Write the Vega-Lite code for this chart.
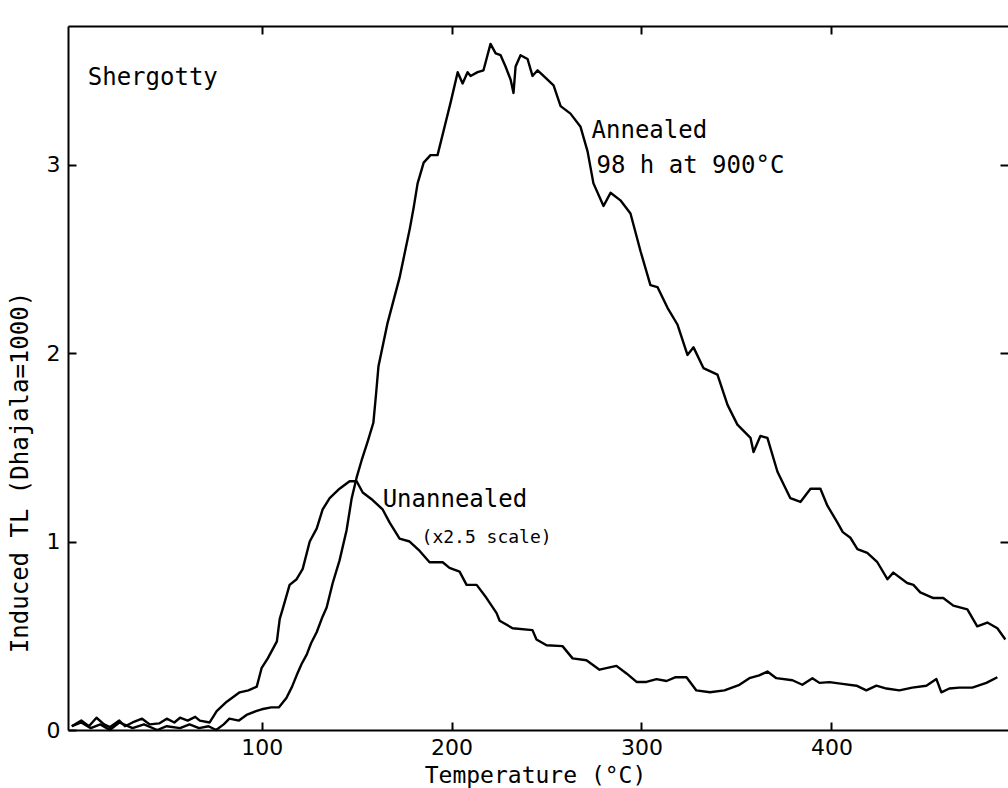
{
  "$schema": "https://vega.github.io/schema/vega-lite/v6.json",
  "width": 940,
  "height": 704,
  "autosize": {"type": "none"},
  "padding": {"left": 68, "top": 26, "right": 0, "bottom": 58},
  "background": "white",
  "config": {"view": {"stroke": null}, "font": "DejaVu Sans Mono"},
  "datasets": {
    "annealed": [
      {"temp":0,"tl":0.02},{"temp":5,"tl":0.04},{"temp":10,"tl":0.01},{"temp":15,"tl":0.03},{"temp":20,"tl":0.0},
      {"temp":25,"tl":0.04},{"temp":32,"tl":0.01},{"temp":38,"tl":0.03},{"temp":45,"tl":0.0},{"temp":50,"tl":0.02},
      {"temp":57,"tl":0.01},{"temp":62,"tl":0.03},{"temp":67,"tl":0.01},{"temp":72,"tl":0.02},{"temp":76,"tl":0.0},
      {"temp":80,"tl":0.03},{"temp":83,"tl":0.06},{"temp":88,"tl":0.05},{"temp":92,"tl":0.08},{"temp":97,"tl":0.1},
      {"temp":100,"tl":0.11},{"temp":105,"tl":0.12},{"temp":109,"tl":0.12},{"temp":113,"tl":0.17},{"temp":116,"tl":0.23},
      {"temp":118.4,"tl":0.29},{"temp":121,"tl":0.35},{"temp":123.7,"tl":0.4},{"temp":126,"tl":0.46},{"temp":129,"tl":0.52},
      {"temp":132,"tl":0.6},{"temp":134.2,"tl":0.65},{"temp":137.4,"tl":0.78},{"temp":141,"tl":0.9},{"temp":144.7,"tl":1.06},
      {"temp":147.4,"tl":1.23},{"temp":150,"tl":1.34},{"temp":152.6,"tl":1.43},{"temp":155.8,"tl":1.53},{"temp":158.8,"tl":1.63},
      {"temp":160.2,"tl":1.78},{"temp":161.5,"tl":1.93},{"temp":166.3,"tl":2.16},{"temp":172.6,"tl":2.4},{"temp":178,"tl":2.66},{"temp":180,"tl":2.77},
      {"temp":182.1,"tl":2.9},{"temp":185.3,"tl":3.01},{"temp":188.9,"tl":3.05},{"temp":192.6,"tl":3.05},{"temp":196.8,"tl":3.22},
      {"temp":199.5,"tl":3.33},{"temp":203.2,"tl":3.49},{"temp":205.8,"tl":3.43},{"temp":208.4,"tl":3.49},{"temp":210,"tl":3.47},
      {"temp":213.7,"tl":3.49},{"temp":216.8,"tl":3.5},{"temp":218.9,"tl":3.58},{"temp":220.5,"tl":3.64},{"temp":223.2,"tl":3.59},
      {"temp":225.8,"tl":3.58},{"temp":228.4,"tl":3.52},{"temp":231.1,"tl":3.45},{"temp":232.6,"tl":3.38},{"temp":233.7,"tl":3.52},
      {"temp":236.3,"tl":3.58},{"temp":240,"tl":3.56},{"temp":242.6,"tl":3.47},{"temp":245.3,"tl":3.5},{"temp":248.4,"tl":3.47},
      {"temp":253.7,"tl":3.42},{"temp":257.4,"tl":3.31},{"temp":262.6,"tl":3.27},{"temp":267.9,"tl":3.2},{"temp":271.6,"tl":3.07},
      {"temp":274.7,"tl":2.9},{"temp":280,"tl":2.78},{"temp":283.7,"tl":2.85},{"temp":288.9,"tl":2.81},{"temp":294.2,"tl":2.74},
      {"temp":299.5,"tl":2.54},{"temp":304.7,"tl":2.36},{"temp":308.4,"tl":2.35},{"temp":313.7,"tl":2.24},{"temp":319,"tl":2.15},
      {"temp":324.2,"tl":1.99},{"temp":327.4,"tl":2.03},{"temp":332.6,"tl":1.92},{"temp":340,"tl":1.885},{"temp":345.3,"tl":1.725},
      {"temp":350.5,"tl":1.62},{"temp":357.4,"tl":1.55},{"temp":359,"tl":1.475},{"temp":362.6,"tl":1.56},{"temp":366.3,"tl":1.55},
      {"temp":371.6,"tl":1.37},{"temp":378.4,"tl":1.23},{"temp":383.7,"tl":1.21},{"temp":389,"tl":1.28},{"temp":394.2,"tl":1.28},
      {"temp":397.9,"tl":1.19},{"temp":403.2,"tl":1.1},{"temp":406,"tl":1.05},{"temp":410,"tl":1.02},{"temp":413.7,"tl":0.96},
      {"temp":418.9,"tl":0.94},{"temp":424.2,"tl":0.89},{"temp":429.5,"tl":0.8},{"temp":432.6,"tl":0.835},{"temp":439.9,"tl":0.78},
      {"temp":443.2,"tl":0.77},{"temp":446.8,"tl":0.73},{"temp":453.7,"tl":0.7},{"temp":458.9,"tl":0.7},{"temp":464.2,"tl":0.66},
      {"temp":471.6,"tl":0.64},{"temp":476.8,"tl":0.55},{"temp":482.1,"tl":0.57},{"temp":487.4,"tl":0.54},{"temp":491.6,"tl":0.48}
    ],
    "unannealed": [
      {"temp":0,"tl":0.02},{"temp":5,"tl":0.05},{"temp":9,"tl":0.02},{"temp":13,"tl":0.065},{"temp":17,"tl":0.03},
      {"temp":20,"tl":0.015},{"temp":25,"tl":0.05},{"temp":28,"tl":0.02},{"temp":32,"tl":0.04},{"temp":37,"tl":0.06},
      {"temp":41,"tl":0.03},{"temp":46,"tl":0.035},{"temp":50,"tl":0.06},{"temp":54,"tl":0.04},{"temp":57,"tl":0.065},
      {"temp":61,"tl":0.05},{"temp":65,"tl":0.07},{"temp":67.4,"tl":0.05},{"temp":72.6,"tl":0.04},{"temp":76.3,"tl":0.1},
      {"temp":81.6,"tl":0.15},{"temp":88.4,"tl":0.2},{"temp":93,"tl":0.21},{"temp":97.4,"tl":0.23},{"temp":100,"tl":0.33},
      {"temp":103.2,"tl":0.38},{"temp":108,"tl":0.47},{"temp":109.5,"tl":0.59},{"temp":111,"tl":0.64},{"temp":114.7,"tl":0.77},
      {"temp":118.4,"tl":0.8},{"temp":121.6,"tl":0.855},{"temp":125.3,"tl":1.0},{"temp":129,"tl":1.07},{"temp":132.1,"tl":1.17},
      {"temp":135.8,"tl":1.23},{"temp":141,"tl":1.28},{"temp":146.3,"tl":1.32},{"temp":150,"tl":1.32},{"temp":153.2,"tl":1.26},
      {"temp":158.4,"tl":1.22},{"temp":163.7,"tl":1.17},{"temp":167.4,"tl":1.1},{"temp":172.6,"tl":1.015},{"temp":177.9,"tl":1.0},
      {"temp":183.2,"tl":0.95},{"temp":188.4,"tl":0.89},{"temp":195.3,"tl":0.89},{"temp":198.9,"tl":0.86},{"temp":204.2,"tl":0.84},
      {"temp":207.9,"tl":0.77},{"temp":213.2,"tl":0.77},{"temp":218.4,"tl":0.7},{"temp":223.7,"tl":0.62},{"temp":225.3,"tl":0.58},
      {"temp":232.1,"tl":0.54},{"temp":242.6,"tl":0.53},{"temp":244.7,"tl":0.48},{"temp":250,"tl":0.45},{"temp":258.4,"tl":0.445},
      {"temp":263.7,"tl":0.38},{"temp":271,"tl":0.37},{"temp":277.9,"tl":0.32},{"temp":286.8,"tl":0.34},{"temp":292.1,"tl":0.3},
      {"temp":297.4,"tl":0.255},{"temp":302.6,"tl":0.255},{"temp":307.9,"tl":0.27},{"temp":313.2,"tl":0.26},{"temp":318,"tl":0.28},
      {"temp":323.7,"tl":0.28},{"temp":328.9,"tl":0.21},{"temp":336,"tl":0.2},{"temp":343.7,"tl":0.21},{"temp":351.6,"tl":0.24},
      {"temp":356.8,"tl":0.275},{"temp":362,"tl":0.29},{"temp":366.3,"tl":0.31},{"temp":371,"tl":0.275},{"temp":379.5,"tl":0.264},
      {"temp":384.7,"tl":0.24},{"temp":390,"tl":0.275},{"temp":393.7,"tl":0.25},{"temp":399,"tl":0.254},{"temp":405.8,"tl":0.245},
      {"temp":413.2,"tl":0.235},{"temp":418.4,"tl":0.21},{"temp":423.7,"tl":0.235},{"temp":429,"tl":0.22},{"temp":435.8,"tl":0.21},
      {"temp":442.6,"tl":0.225},{"temp":450,"tl":0.235},{"temp":455.3,"tl":0.27},{"temp":457.9,"tl":0.2},{"temp":462.1,"tl":0.22},
      {"temp":467.4,"tl":0.225},{"temp":474.2,"tl":0.225},{"temp":481.6,"tl":0.25},{"temp":487.4,"tl":0.28}
    ],
    "biglabels": [
      {"temp":8.4,"tl":3.46,"label":"Shergotty"},
      {"temp":273.7,"tl":3.18,"label":"Annealed"},
      {"temp":276.3,"tl":2.99,"label":"98 h at 900°C"},
      {"temp":163.7,"tl":1.22,"label":"Unannealed"}
    ],
    "smalllabels": [
      {"temp":184.2,"tl":1.02,"label":"(x2.5 scale)"}
    ]
  },
  "resolve": {"axis": {"x": "independent", "y": "independent"}},
  "layer": [
    {
      "data": {"name": "annealed"},
      "mark": {"type": "line", "color": "black", "strokeWidth": 2.4, "strokeJoin": "round"},
      "encoding": {
        "x": {"field": "temp", "type": "quantitative",
          "scale": {"domain": [-2, 493], "nice": false, "zero": false},
          "axis": {"orient": "bottom", "values": [100, 200, 300, 400], "grid": false,
            "domainColor": "black", "domainWidth": 2, "tickColor": "black", "tickWidth": 2, "tickSize": -8,
            "labelPadding": 15, "labelFont": "DejaVu Sans", "labelFontSize": 22, "labelColor": "black",
            "title": "Temperature (°C)", "titleFont": "DejaVu Sans Mono", "titleFontSize": 23, "titleFontWeight": "normal",
            "titleColor": "black", "titleX": 467, "titleY": 45, "titleBaseline": "middle", "titleAnchor": null}},
        "y": {"field": "tl", "type": "quantitative",
          "scale": {"domain": [0, 3.735], "nice": false, "zero": false},
          "axis": {"orient": "left", "values": [0, 1, 2, 3], "grid": false,
            "domainColor": "black", "domainWidth": 2, "tickColor": "black", "tickWidth": 2, "tickSize": -8,
            "labelPadding": 16, "labelFont": "DejaVu Sans", "labelFontSize": 22, "labelColor": "black",
            "title": "Induced TL (Dhajala=1000)", "titleFont": "DejaVu Sans Mono", "titleFontSize": 24, "titleFontWeight": "normal",
            "titleColor": "black", "titleX": -48, "titleY": 446, "titleBaseline": "middle", "titleAngle": -90}}
      }
    },
    {
      "data": {"name": "unannealed"},
      "mark": {"type": "line", "color": "black", "strokeWidth": 2.4, "strokeJoin": "round"},
      "encoding": {
        "x": {"field": "temp", "type": "quantitative",
          "axis": {"orient": "top", "values": [100, 200, 300, 400], "labels": false, "grid": false, "title": null,
            "domainColor": "black", "domainWidth": 2, "tickColor": "black", "tickWidth": 2, "tickSize": -8}},
        "y": {"field": "tl", "type": "quantitative",
          "axis": {"orient": "right", "values": [1, 2, 3], "labels": false, "grid": false, "title": null, "domain": false,
            "tickColor": "black", "tickWidth": 2, "tickSize": -8}}
      }
    },
    {
      "data": {"name": "biglabels"},
      "mark": {"type": "text", "align": "left", "baseline": "middle", "font": "DejaVu Sans Mono", "fontSize": 24, "color": "black"},
      "encoding": {
        "x": {"field": "temp", "type": "quantitative", "axis": null},
        "y": {"field": "tl", "type": "quantitative", "axis": null},
        "text": {"field": "label"}
      }
    },
    {
      "data": {"name": "smalllabels"},
      "mark": {"type": "text", "align": "left", "baseline": "middle", "font": "DejaVu Sans Mono", "fontSize": 18, "color": "black"},
      "encoding": {
        "x": {"field": "temp", "type": "quantitative", "axis": null},
        "y": {"field": "tl", "type": "quantitative", "axis": null},
        "text": {"field": "label"}
      }
    }
  ]
}
